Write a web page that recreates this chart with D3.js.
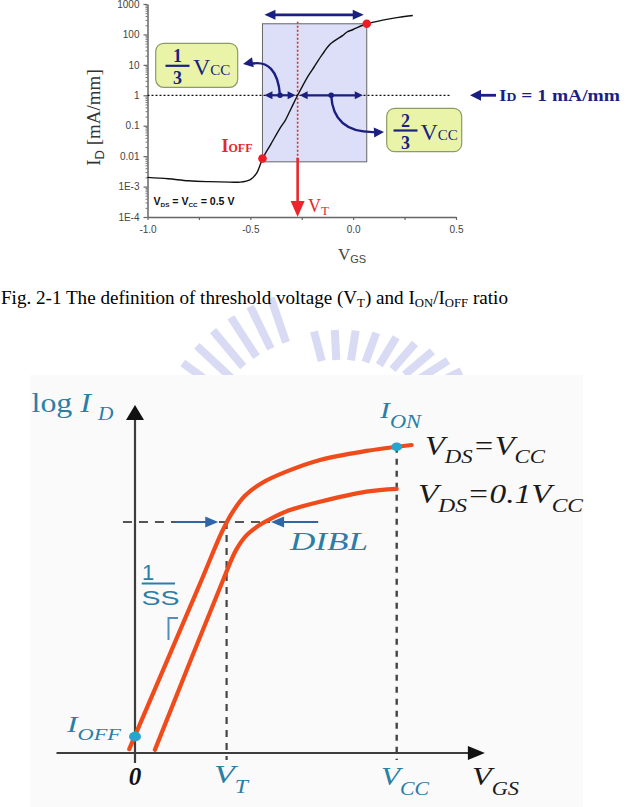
<!DOCTYPE html>
<html>
<head>
<meta charset="utf-8">
<script src="https://cdn.jsdelivr.net/npm/d3@7"></script>
<style>
  body { margin: 0; background: #fff; }
  svg { display: block; }
</style>
</head>
<body>
<svg id="fig" width="635" height="807"></svg>
<script>
// ---- top chart: measured ID-VGS curve (VDS = VCC = 0.5 V)
const vgs = [-1.0, -0.9, -0.8, -0.7, -0.6, -0.55, -0.5, -0.47, -0.44, -0.40, -0.35, -0.33, -0.30, -0.27,
             -0.22, -0.19, -0.15, -0.11, -0.05, -0.03, 0.0, 0.066, 0.15, 0.22, 0.29];
const idCur = [2.0e-3, 1.8e-3, 1.55e-3, 1.45e-3, 1.4e-3, 1.4e-3, 1.7e-3, 2.7e-3, 8.4e-3, 0.025, 0.095, 0.15, 0.39, 1,
               4.2, 8.5, 22, 49, 93, 120, 145, 224, 300, 363, 420];

const yTicks = [1e-4, 1e-3, 0.01, 0.1, 1, 10, 100, 1000];
const yTickLabels = ["1E-4", "1E-3", "0.01", "0.1", "1", "10", "100", "1000"];
const xTicks = [-1.0, -0.5, 0.0, 0.5];
const xTickLabels = ["-1.0", "-0.5", "0.0", "0.5"];
const xMinor = [-1.0, -0.75, -0.5, -0.25, 0.0, 0.25, 0.5];

// key points
const vt = -0.27;                       // threshold voltage
const idRef = 1;                        // ID = 1 mA/mm
const ionPt = [0.066, 224];             // ION
const ioffPt = [-0.441, 8.4e-3];        // IOFF
const windowLow = 6.5e-3;               // bottom of the VCC window
const spanLevel = 440;                  // level of the VCC span arrow
const refLineEnd = 0.47;                // end of the dotted ID = 1 line

// ---- bottom chart: schematic curves (VGS in units of VCC, log ID arbitrary)
const vHigh = [-0.022, 0.248, 0.332, 0.371, 0.420, 0.485, 0.573, 0.707, 0.885, 1.0, 1.057];
const lHigh = [0.11, 4.86, 6.35, 6.90, 7.39, 7.76, 8.07, 8.42, 8.68, 8.80, 8.85];
const vLow = [0.076, 0.344, 0.386, 0.424, 0.470, 0.516, 0.592, 0.707, 0.885, 1.0];
const lLow = [0.09, 5.11, 5.83, 6.24, 6.52, 6.72, 6.98, 7.22, 7.51, 7.59];
const vtS = 0.35, ltS = 6.64;           // VT and its current level
const ionS = [1.0, 8.80];
const ioffS = [0.0, 0.47];

const svg = d3.select("#fig");
const navy = "#1b1f82", red = "#e8262b", teal = "#2b7ea6";
const serif = "'Liberation Serif', 'Times New Roman', serif";
const sans = "'Liberation Sans', Arial, sans-serif";

function head(g, x1, y1, x2, y2, len, half, color) {
  const a = Math.atan2(y2 - y1, x2 - x1);
  const bx = x2 - len * Math.cos(a), by = y2 - len * Math.sin(a);
  const px = -Math.sin(a) * half, py = Math.cos(a) * half;
  g.append("path")
    .attr("d", `M${x2},${y2}L${bx + px},${by + py}L${bx - px},${by - py}Z`)
    .attr("fill", color);
}

function arrow(g, x1, y1, x2, y2, opt) {
  const a = Math.atan2(y2 - y1, x2 - x1);
  const cut = opt.len * 0.7;
  const sx = opt.both ? x1 + cut * Math.cos(a) : x1, sy = opt.both ? y1 + cut * Math.sin(a) : y1;
  g.append("line")
    .attr("x1", sx).attr("y1", sy)
    .attr("x2", x2 - cut * Math.cos(a)).attr("y2", y2 - cut * Math.sin(a))
    .attr("stroke", opt.color).attr("stroke-width", opt.w);
  head(g, x1, y1, x2, y2, opt.len, opt.half, opt.color);
  if (opt.both) head(g, x2, y2, x1, y1, opt.len, opt.half, opt.color);
}

function rich(g, x, y, parts, o) {
  const t = g.append("text").attr("x", x).attr("y", y)
    .attr("font-family", o.family).attr("font-size", o.size).attr("fill", o.fill);
  if (o.italic) t.attr("font-style", "italic");
  if (o.weight) t.attr("font-weight", o.weight);
  if (o.anchor) t.attr("text-anchor", o.anchor);
  if (o.width) t.attr("textLength", o.width).attr("lengthAdjust", "spacingAndGlyphs");
  if (o.transform) t.attr("transform", o.transform);
  let shift = 0;
  parts.forEach(p => {
    const s = t.append("tspan").text(p.t);
    if (p.size) s.attr("font-size", p.size);
    if (p.family) s.attr("font-family", p.family);
    if (p.style) s.attr("font-style", p.style);
    if (p.weight) s.attr("font-weight", p.weight);
    const dy = (p.dy || 0) - shift;
    if (dy) s.attr("dy", dy);
    if (p.dx) s.attr("dx", p.dx);
    shift = p.dy || 0;
  });
  return t;
}

// ---- faint watermark behind the caption
const defs = svg.append("defs");
defs.append("clipPath").attr("id", "wm").append("rect")
  .attr("x", 0).attr("y", 270).attr("width", 635).attr("height", 105);
const wm = svg.append("g").attr("clip-path", "url(#wm)").attr("opacity", 0.5);
d3.range(-165, -104, 7).forEach(a => {
  const r = a * Math.PI / 180;
  wm.append("line")
    .attr("x1", 330 + 135 * Math.cos(r)).attr("y1", 470 + 135 * Math.sin(r))
    .attr("x2", 330 + 182 * Math.cos(r)).attr("y2", 470 + 182 * Math.sin(r))
    .attr("stroke", "#b4b9ea").attr("stroke-width", 8);
});
d3.range(-100, -32, 8).forEach(a => {
  const r = a * Math.PI / 180;
  wm.append("line")
    .attr("x1", 340 + 105 * Math.cos(r)).attr("y1", 430 + 70 * Math.sin(r))
    .attr("x2", 340 + 150 * Math.cos(r)).attr("y2", 430 + 100 * Math.sin(r))
    .attr("stroke", "#b4b9ea").attr("stroke-width", 8);
});

// =================== top chart ===================
const x = d3.scaleLinear().domain([-1.0, 0.5]).range([147.5, 456]);
const y = d3.scaleLog().domain([1e-4, 1e3]).range([217, 4]);
const topG = svg.append("g");

// VCC window
topG.append("rect")
  .attr("x", x(ioffPt[0])).attr("y", y(ionPt[1]))
  .attr("width", x(ionPt[0]) - x(ioffPt[0]))
  .attr("height", y(windowLow) - y(ionPt[1]))
  .attr("fill", "#dcdff7").attr("stroke", "#666").attr("stroke-width", 1);

// y axis with log minor ticks
const yMinor = [];
yTicks.slice(0, -1).forEach(d => d3.range(2, 10).forEach(k => yMinor.push(d * k)));
topG.append("g").attr("transform", `translate(${x(-1)},0)`)
  .call(d3.axisLeft(y).tickValues(yMinor).tickSize(2).tickFormat("").tickSizeOuter(0))
  .call(g => g.select(".domain").remove())
  .call(g => g.selectAll("line").attr("stroke", "#777"));
topG.append("g").attr("transform", `translate(${x(-1)},0)`)
  .call(d3.axisLeft(y).tickValues(yTicks).tickSize(4).tickPadding(4).tickSizeOuter(0)
    .tickFormat((d, i) => yTickLabels[i]))
  .call(g => g.select(".domain").attr("stroke", "#666").attr("stroke-width", 1.5))
  .call(g => g.selectAll("line").attr("stroke", "#666").attr("stroke-width", 1.2))
  .call(g => g.selectAll("text").attr("font-family", sans).attr("font-size", 10).attr("fill", "#444"));

// x axis
topG.append("g").attr("transform", `translate(0,${y(1e-4)})`)
  .call(d3.axisBottom(x).tickValues(xMinor).tickSize(3).tickFormat("").tickSizeOuter(0))
  .call(g => g.select(".domain").attr("stroke", "#666").attr("stroke-width", 1.5))
  .call(g => g.selectAll("line").attr("stroke", "#666").attr("stroke-width", 1.2));
topG.append("g").attr("transform", `translate(0,${y(1e-4)})`)
  .call(d3.axisBottom(x).tickValues(xTicks).tickSize(0).tickPadding(9)
    .tickFormat((d, i) => xTickLabels[i]))
  .call(g => g.select(".domain").remove())
  .call(g => g.selectAll("text").attr("font-family", sans).attr("font-size", 10).attr("fill", "#444"));

// dotted ID = 1 line
topG.append("line")
  .attr("x1", x(-1)).attr("x2", x(refLineEnd)).attr("y1", y(idRef)).attr("y2", y(idRef))
  .attr("stroke", "#111").attr("stroke-width", 1.3).attr("stroke-dasharray", "2,2");

// VT marker: dotted then solid arrow
topG.append("line")
  .attr("x1", x(vt)).attr("x2", x(vt)).attr("y1", y(ionPt[1]) - 2).attr("y2", y(windowLow) - 2)
  .attr("stroke", red).attr("stroke-width", 1.6).attr("stroke-dasharray", "2,2");
arrow(topG, x(vt), y(windowLow) - 4, x(vt), y(1e-4), { color: red, w: 2.6, len: 16, half: 7 });

// measured curve
const line = d3.line().x((d, i) => x(vgs[i])).y(d => y(d)).curve(d3.curveCatmullRom);
topG.append("path").datum(idCur).attr("d", line)
  .attr("fill", "none").attr("stroke", "#111").attr("stroke-width", 1.4);

// ION / IOFF dots
[ionPt, ioffPt].forEach(p => topG.append("circle")
  .attr("cx", x(p[0])).attr("cy", y(p[1])).attr("r", 4.3).attr("fill", "#ee1c24"));

// VCC span arrow
arrow(topG, x(ioffPt[0]) + 2, y(spanLevel), x(ionPt[0]) - 3, y(spanLevel),
  { color: navy, w: 2.6, len: 11, half: 5, both: true });

// 1/3 and 2/3 arrows on the ID = 1 line
const xa = x(ioffPt[0]) + 2, xb = x(vt) - 2, xc = x(vt) + 2, xd = x(ionPt[0]) - 4;
arrow(topG, xa, y(idRef), xb, y(idRef), { color: navy, w: 2.2, len: 8, half: 4, both: true });
arrow(topG, xc, y(idRef), xd, y(idRef), { color: navy, w: 2.2, len: 8, half: 4, both: true });
const m1 = (xa + xb) / 2, m2 = (xc + xd) / 2;
[m1, m2].forEach(m => topG.append("circle").attr("cx", m).attr("cy", y(idRef)).attr("r", 2.8).attr("fill", navy));

// curved pointers to the boxes
const c1 = [m1 - 3, 58], e1 = [243, 62];
topG.append("path").attr("d", `M${m1},${y(idRef)}Q${c1[0]},${c1[1]} ${e1[0] + 7},${e1[1] + 2}`)
  .attr("fill", "none").attr("stroke", navy).attr("stroke-width", 2.4);
head(topG, c1[0], c1[1], e1[0], e1[1] + 2, 10, 5, navy);
const c2 = [m2 + 2, 134], e2 = [384, 132];
topG.append("path").attr("d", `M${m2},${y(idRef)}Q${c2[0]},${c2[1]} ${e2[0] - 7},${e2[1]}`)
  .attr("fill", "none").attr("stroke", navy).attr("stroke-width", 2.4);
head(topG, c2[0], c2[1], e2[0], e2[1], 10, 5, navy);

// fraction boxes
function fracBox(bx, by, bw, bh, num, fx, vx) {
  topG.append("rect").attr("x", bx).attr("y", by).attr("width", bw).attr("height", bh)
    .attr("rx", 8).attr("fill", "#e9f4a8").attr("stroke", "#8c9a66").attr("stroke-width", 1.2);
  const midY = by + bh / 2;
  topG.append("text").attr("x", fx).attr("y", midY - 3).attr("text-anchor", "middle")
    .attr("font-family", serif).attr("font-weight", "bold").attr("font-size", 18).attr("fill", navy).text(num);
  topG.append("line").attr("x1", fx - 12).attr("x2", fx + 12).attr("y1", midY + 0.5).attr("y2", midY + 0.5)
    .attr("stroke", navy).attr("stroke-width", 2.2);
  topG.append("text").attr("x", fx).attr("y", midY + 19).attr("text-anchor", "middle")
    .attr("font-family", serif).attr("font-weight", "bold").attr("font-size", 18).attr("fill", navy).text("3");
  rich(topG, vx, midY + 10, [{ t: "V" }, { t: "CC", size: 15 }],
    { family: serif, size: 24, fill: navy });
}
fracBox(155.7, 43.3, 82, 44, "1", 177.5, 193);
fracBox(386.7, 108.3, 75, 43.4, "2", 405.5, 420.5);

// ID = 1 mA/mm annotation
arrow(topG, 496, y(idRef), 470, y(idRef), { color: navy, w: 2.8, len: 11, half: 5.5 });
rich(topG, 499, 101, [{ t: "I" }, { t: "D", size: 12 }, { t: " = 1 mA/mm" }],
  { family: serif, size: 17, fill: navy, weight: "bold", width: 121 });

// IOFF and VT labels
rich(topG, 221.5, 152, [{ t: "I" }, { t: "OFF", size: 12 }],
  { family: serif, size: 18, fill: red, weight: "bold" });
rich(topG, 308, 211.5, [{ t: "V" }, { t: "T", size: 13, dy: 3.5 }],
  { family: serif, size: 18, fill: red });

// condition label
rich(topG, 153.5, 205, [{ t: "V" }, { t: "DS", size: 6, dy: 1.5 }, { t: " = V" }, { t: "CC", size: 6, dy: 1.5 },
  { t: " = 0.5 V" }], { family: sans, size: 10, weight: "bold", fill: "#111", width: 81 });

// axis titles
rich(topG, 0, 0, [{ t: "I" }, { t: "D", size: 13, family: sans, dy: 4 }, { t: " [mA/mm]" }],
  { family: serif, size: 19, fill: "#333", anchor: "middle", transform: "translate(100,117.5) rotate(-90)" });
rich(topG, 338, 260, [{ t: "V" }, { t: "GS", size: 11, family: sans, dy: 3 }],
  { family: serif, size: 17, fill: "#444" });

// caption
rich(svg, 1, 303.5, [{ t: "Fig. 2-1 The definition of threshold voltage (V" }, { t: "T", size: 12, dy: 3 },
  { t: ") and I" }, { t: "ON", size: 12, dy: 3 }, { t: "/I" }, { t: "OFF", size: 12, dy: 3 }, { t: " ratio" }],
  { family: serif, size: 18, fill: "#000", width: 507 });

// =================== bottom schematic ===================
svg.append("rect").attr("x", 30).attr("y", 375).attr("width", 553).attr("height", 432).attr("fill", "#fafafa");
const xs = d3.scaleLinear().domain([0, 1]).range([135, 396.7]);
const ys = d3.scaleLinear().domain([0, 10]).range([753, 405]);
const bot = svg.append("g");
const axisCol = "#3d3d3d";

// axes with arrow heads
bot.append("line").attr("x1", xs(-0.3)).attr("x2", xs(1.28)).attr("y1", ys(0)).attr("y2", ys(0))
  .attr("stroke", axisCol).attr("stroke-width", 2.2);
head(bot, xs(0), ys(0), xs(1.337), ys(0), 17, 7, "#111");
bot.append("line").attr("x1", xs(0)).attr("x2", xs(0)).attr("y1", ys(-0.29)).attr("y2", ys(9.7))
  .attr("stroke", axisCol).attr("stroke-width", 2.2);
head(bot, xs(0), ys(0), xs(0), ys(10), 15, 9, "#111");

// dashed guides
bot.append("line").attr("x1", xs(-0.046)).attr("x2", xs(0.516)).attr("y1", ys(ltS)).attr("y2", ys(ltS))
  .attr("stroke", "#555").attr("stroke-width", 2).attr("stroke-dasharray", "9,7");
bot.append("line").attr("x1", xs(vtS)).attr("x2", xs(vtS)).attr("y1", ys(ltS)).attr("y2", ys(-0.2))
  .attr("stroke", "#444").attr("stroke-width", 2.2).attr("stroke-dasharray", "7,6");
bot.append("line").attr("x1", xs(ionS[0])).attr("x2", xs(ionS[0])).attr("y1", ys(ionS[1])).attr("y2", ys(-0.2))
  .attr("stroke", "#444").attr("stroke-width", 2.4).attr("stroke-dasharray", "6,6");

// DIBL arrows
const blue = "#2f66aa";
arrow(bot, xs(0.153), ys(ltS), xs(0.318), ys(ltS), { color: blue, w: 2, len: 13, half: 5.5 });
arrow(bot, xs(0.70), ys(ltS), xs(0.52), ys(ltS), { color: blue, w: 2, len: 13, half: 5.5 });

// schematic curves
const sLine = d3.line().curve(d3.curveCatmullRom.alpha(0.5));
const orange = "#f04b1b";
bot.append("path").attr("d", sLine(vHigh.map((v, i) => [xs(v), ys(lHigh[i])])))
  .attr("fill", "none").attr("stroke", orange).attr("stroke-width", 4.2).attr("stroke-linecap", "round");
bot.append("path").attr("d", sLine(vLow.map((v, i) => [xs(v), ys(lLow[i])])))
  .attr("fill", "none").attr("stroke", orange).attr("stroke-width", 4.2).attr("stroke-linecap", "round");

// ION / IOFF dots
bot.append("ellipse").attr("cx", xs(ionS[0])).attr("cy", ys(ionS[1])).attr("rx", 5.5).attr("ry", 4.3).attr("fill", "#2ba3cf");
bot.append("ellipse").attr("cx", xs(ioffS[0])).attr("cy", ys(ioffS[1])).attr("rx", 6).attr("ry", 4.8).attr("fill", "#2ba3cf");

// slope marker
bot.append("path").attr("d", "M178,618L168.5,618L168.5,640")
  .attr("fill", "none").attr("stroke", "#4f8fba").attr("stroke-width", 2);

// labels
const it = { family: serif, italic: true };
rich(bot, 31.5, 411.7, [{ t: "log ", style: "normal" }, { t: "I" }, { t: "D", size: 18, dy: 8, dx: 6 }],
  Object.assign({ size: 27, fill: teal, width: 82 }, it));
rich(bot, 380, 418, [{ t: "I" }, { t: "ON", size: 18, dy: 10 }],
  Object.assign({ size: 24, fill: teal, width: 41 }, it));
rich(bot, 425, 455, [{ t: "V" }, { t: "DS", size: 19, dy: 8 }, { t: "=V" }, { t: "CC", size: 19, dy: 8 }],
  Object.assign({ size: 27, fill: "#1a1a1a", width: 120 }, it));
rich(bot, 418, 503, [{ t: "V" }, { t: "DS", size: 19, dy: 9 }, { t: "=0.1V" }, { t: "CC", size: 19, dy: 9 }],
  Object.assign({ size: 27, fill: "#1a1a1a", width: 165 }, it));
rich(bot, 290, 550, [{ t: "DIBL" }], Object.assign({ size: 26, fill: teal, width: 78 }, it));
rich(bot, 67, 731.5, [{ t: "I" }, { t: "OFF", size: 17, dy: 8 }],
  Object.assign({ size: 24, fill: teal, width: 54 }, it));
rich(bot, xs(0), 785, [{ t: "0" }], Object.assign({ size: 25, fill: "#111", anchor: "middle", weight: "bold" }, it));
rich(bot, 214, 783, [{ t: "V" }, { t: "T", size: 18, dy: 10 }],
  Object.assign({ size: 26, fill: teal, width: 34 }, it));
rich(bot, 381, 785, [{ t: "V" }, { t: "CC", size: 18, dy: 10 }],
  Object.assign({ size: 26, fill: teal, width: 48 }, it));
rich(bot, 472, 785, [{ t: "V" }, { t: "GS", size: 18, dy: 10 }],
  Object.assign({ size: 26, fill: "#1a1a1a", width: 47 }, it));

// 1/SS
bot.append("text").attr("x", 142).attr("y", 580).attr("font-family", sans).attr("font-size", 22)
  .attr("fill", teal).text("1");
bot.append("line").attr("x1", 141.7).attr("x2", 175).attr("y1", 583.5).attr("y2", 583.5)
  .attr("stroke", teal).attr("stroke-width", 2);
bot.append("text").attr("x", 141.5).attr("y", 605).attr("font-family", sans).attr("font-size", 21)
  .attr("fill", teal).attr("textLength", 38).attr("lengthAdjust", "spacingAndGlyphs").text("SS");
</script>
</body>
</html>
